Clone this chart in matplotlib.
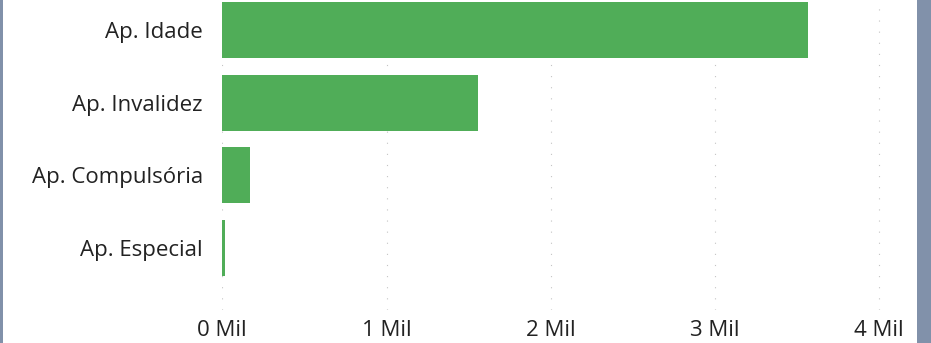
import matplotlib
matplotlib.use("Agg")
import matplotlib.pyplot as plt
from matplotlib.patches import Rectangle

categories = ["Ap. Idade", "Ap. Invalidez", "Ap. Compulsória", "Ap. Especial"]
values = [3568, 1557, 169, 16]
tick_values = [0, 1000, 2000, 3000, 4000]
tick_labels = ["0 Mil", "1 Mil", "2 Mil", "3 Mil", "4 Mil"]

W, H = 931, 343
fig = plt.figure(figsize=(W / 100, H / 100), dpi=100)
fig.patch.set_facecolor("white")

# side border strips
fig.add_artist(Rectangle((0, 0), 3 / W, 1, transform=fig.transFigure,
                         facecolor="#8191AA", edgecolor="none"))
fig.add_artist(Rectangle((917 / W, 0), 14 / W, 1, transform=fig.transFigure,
                         facecolor="#8191AA", edgecolor="none"))

left_px, right_px = 222.3, 905
top_px, bottom_px = 0, 310
ax = fig.add_axes([left_px / W, 1 - bottom_px / H,
                   (right_px - left_px) / W, (bottom_px - top_px) / H])
px_per_unit = 164.25 / 1000
ax.set_xlim(0, (right_px - left_px) / px_per_unit)
pitch = 72.67
ax.set_ylim((bottom_px - 30) / pitch, -(30 - top_px) / pitch)

ypos = list(range(len(categories)))
ax.barh(ypos, values, height=0.77, color="#50AD58", edgecolor="none", zorder=2)

for tv in tick_values:
    ax.axvline(tv, color="#C4C4C4", linewidth=0.8,
               linestyle=(0, (1, 9)), zorder=1)

for s in ax.spines.values():
    s.set_visible(False)

font = "Open Sans"
ax.set_yticks(ypos)
ax.set_yticklabels(categories, fontsize=16, family=font, color="#222222")
ax.set_xticks(tick_values)
ax.set_xticklabels(tick_labels, fontsize=16, family=font, color="#222222")
ax.tick_params(axis="y", length=0, pad=14)
ax.tick_params(axis="x", length=0, pad=7)

fig.savefig("out.png", dpi=100, facecolor="white")
